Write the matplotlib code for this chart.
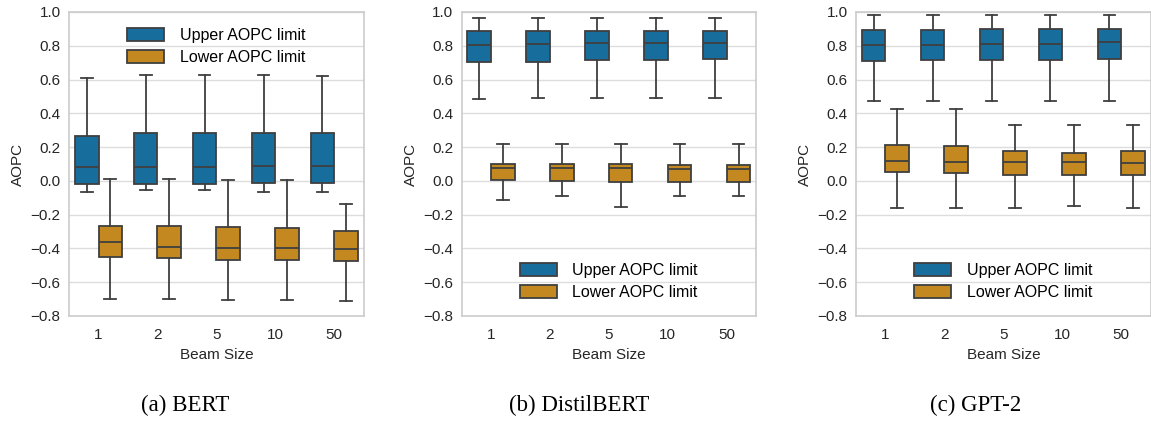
import colorsys
import numpy as np
import matplotlib
matplotlib.use("Agg")
import matplotlib.pyplot as plt
from matplotlib.patches import Patch

beam_sizes = ["1", "2", "5", "10", "50"]
models = ["BERT", "DistilBERT", "GPT-2"]
captions = ["(a) BERT", "(b) DistilBERT", "(c) GPT-2"]

# five-number summaries per beam size: (whislo, q1, median, q3, whishi)
bert_upper = [
    (-0.068, -0.016, 0.084, 0.266, 0.611),
    (-0.056, -0.016, 0.084, 0.286, 0.625),
    (-0.056, -0.016, 0.084, 0.286, 0.625),
    (-0.068, -0.012, 0.090, 0.286, 0.625),
    (-0.068, -0.012, 0.090, 0.282, 0.621),
]
bert_lower = [
    (-0.701, -0.449, -0.362, -0.265, 0.009),
    (-0.701, -0.459, -0.392, -0.267, 0.009),
    (-0.703, -0.466, -0.395, -0.271, 0.005),
    (-0.703, -0.468, -0.395, -0.277, 0.005),
    (-0.711, -0.476, -0.405, -0.299, -0.137),
]
distil_upper = [
    (0.486, 0.701, 0.806, 0.885, 0.962),
    (0.490, 0.701, 0.810, 0.889, 0.962),
    (0.490, 0.715, 0.818, 0.889, 0.962),
    (0.490, 0.715, 0.818, 0.889, 0.962),
    (0.490, 0.723, 0.818, 0.889, 0.962),
]
distil_lower = [
    (-0.115, 0.005, 0.076, 0.098, 0.221),
    (-0.088, -0.003, 0.076, 0.098, 0.221),
    (-0.157, -0.005, 0.076, 0.098, 0.221),
    (-0.088, -0.005, 0.072, 0.094, 0.221),
    (-0.088, -0.005, 0.072, 0.094, 0.221),
]
gpt2_upper = [
    (0.470, 0.707, 0.802, 0.893, 0.980),
    (0.470, 0.715, 0.802, 0.893, 0.980),
    (0.470, 0.715, 0.810, 0.897, 0.980),
    (0.470, 0.715, 0.810, 0.897, 0.980),
    (0.470, 0.723, 0.820, 0.901, 0.980),
]
gpt2_lower = [
    (-0.159, 0.051, 0.118, 0.215, 0.428),
    (-0.159, 0.045, 0.114, 0.209, 0.428),
    (-0.159, 0.037, 0.112, 0.177, 0.329),
    (-0.147, 0.037, 0.112, 0.165, 0.329),
    (-0.159, 0.033, 0.104, 0.177, 0.329),
]

upper_data = [bert_upper, distil_upper, gpt2_upper]
lower_data = [bert_lower, distil_lower, gpt2_lower]
legend_locs = ["upper center", "lower center", "lower center"]
y_ticks = [-0.8, -0.6, -0.4, -0.2, 0.0, 0.2, 0.4, 0.6, 0.8, 1.0]


def desaturate(hex_color, prop=0.75):
    rgb = matplotlib.colors.to_rgb(hex_color)
    h, l, s = colorsys.rgb_to_hls(*rgb)
    return colorsys.hls_to_rgb(h, l, s * prop)


blue = desaturate("#0173b2")
orange = desaturate("#de8f05")
edge = "#3f3f3f"

plt.rcParams["font.family"] = ["Liberation Sans", "DejaVu Sans"]
plt.rcParams["font.size"] = 11

fig = plt.figure(figsize=(11.51, 4.23), dpi=100)
lefts = [0.060, 0.401, 0.7437]
width = 0.256
bottom = 0.253
height = 0.7187
caption_x = [185 / 1151, 579 / 1151, 976 / 1151]


def make_stats(rows):
    out = []
    for lo, q1, med, q3, hi in rows:
        out.append(dict(whislo=lo, q1=q1, med=med, q3=q3, whishi=hi, fliers=[]))
    return out


for i in range(3):
    ax = fig.add_axes([lefts[i], bottom, width, height])
    ax.set_axisbelow(True)
    ax.yaxis.grid(True, color="#dddddd", linewidth=1.0)
    for sp in ax.spines.values():
        sp.set_color("#cccccc")
        sp.set_linewidth(1.2)

    x = np.arange(len(beam_sizes))
    for rows, offset, col in [(upper_data[i], -0.2, blue), (lower_data[i], 0.2, orange)]:
        ax.bxp(make_stats(rows), positions=x + offset, widths=0.4,
               patch_artist=True, showfliers=False,
               boxprops=dict(facecolor=col, edgecolor=edge, linewidth=1.3),
               medianprops=dict(color=edge, linewidth=1.3),
               whiskerprops=dict(color=edge, linewidth=1.3),
               capprops=dict(color=edge, linewidth=1.3))

    ax.set_xlim(-0.5, len(beam_sizes) - 0.5)
    ax.set_ylim(-0.8, 1.0)
    ax.set_yticks(y_ticks)
    ax.set_yticklabels([f"{v:.1f}".replace("-", "\u2212") for v in y_ticks])
    ax.set_xticks(x)
    ax.set_xticklabels(beam_sizes)
    ax.tick_params(axis="both", length=0, colors="#262626")
    ax.tick_params(axis="x", pad=9)
    ax.tick_params(axis="y", pad=6)
    ax.set_xlabel("Beam Size", color="#262626", labelpad=4)
    ax.set_ylabel("AOPC", color="#262626", labelpad=4)

    handles = [Patch(facecolor=blue, edgecolor=edge, linewidth=1.3),
               Patch(facecolor=orange, edgecolor=edge, linewidth=1.3)]
    ax.legend(handles, ["Upper AOPC limit", "Lower AOPC limit"], loc=legend_locs[i],
              frameon=False, handlelength=2.3, handleheight=0.85, handletextpad=1.0,
              fontsize=11.5, labelspacing=0.45, borderaxespad=0.6)

    fig.text(caption_x[i], 1 - 405 / 423, captions[i], ha="center", va="center",
             fontsize=16.5, family=["Liberation Serif", "DejaVu Serif"])

fig.savefig("out.png", dpi=100)
